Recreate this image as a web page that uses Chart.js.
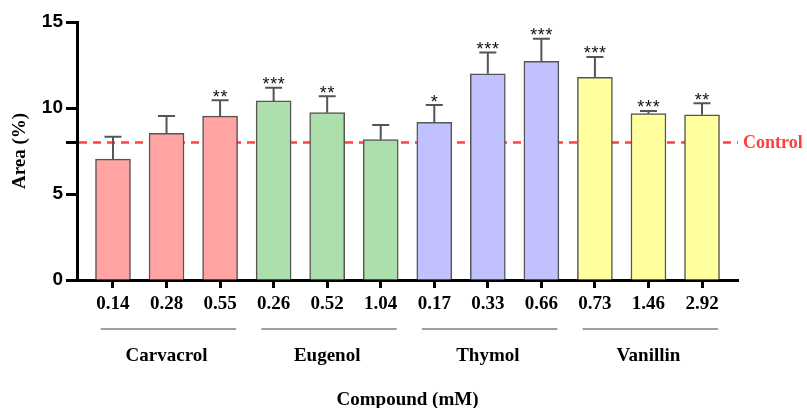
<!DOCTYPE html>
<html>
<head>
<meta charset="utf-8">
<script src="https://cdn.jsdelivr.net/npm/chart.js@4"></script>
<style>
  html, body { margin: 0; padding: 0; background: #fff; }
</style>
</head>
<body>
<canvas id="graficoArea" width="807" height="408"></canvas>
<script>
const compounds = ["Carvacrol", "Eugenol", "Thymol", "Vanillin"];
const compoundColors = ["#ffa3a3", "#addfad", "#c1c1ff", "#ffff9e"];
const doses = ["0.14", "0.28", "0.55", "0.26", "0.52", "1.04", "0.17", "0.33", "0.66", "0.73", "1.46", "2.92"];
const areas = [7.03, 8.53, 9.53, 10.41, 9.73, 8.16, 9.17, 11.99, 12.71, 11.78, 9.67, 9.61];
const errors = [1.3, 1.0, 0.92, 0.77, 0.95, 0.85, 1.0, 1.23, 1.32, 1.19, 0.16, 0.66];
const stars = ["", "", "**", "***", "**", "", "*", "***", "***", "***", "***", "**"];
const control = 8;
const yTicks = [0, 5, 10, 15];

const serif = "'Liberation Serif', 'Times New Roman', serif";
const sans = "'Liberation Sans', Arial, sans-serif";

// error bars, significance stars, control line and compound groups
const extras = {
  id: "extras",

  beforeDatasetsDraw(chart) {
    const { ctx, chartArea, scales } = chart;
    const y = scales.y.getPixelForValue(control);
    ctx.save();
    ctx.strokeStyle = "#ff4040";
    ctx.lineWidth = 2.5;
    ctx.setLineDash([8, 6]);
    ctx.beginPath();
    ctx.moveTo(chartArea.left + 2, y);
    ctx.lineTo(chartArea.right, y);
    ctx.stroke();
    ctx.restore();
  },

  afterDatasetsDraw(chart) {
    const { ctx, scales } = chart;
    const bars = chart.getDatasetMeta(0).data;
    ctx.save();
    bars.forEach((bar, i) => {
      const top = scales.y.getPixelForValue(areas[i] + errors[i]);
      ctx.strokeStyle = "#555";
      ctx.lineWidth = 2;
      ctx.beginPath();
      ctx.moveTo(bar.x, bar.y);
      ctx.lineTo(bar.x, top);
      ctx.moveTo(bar.x - 8.5, top);
      ctx.lineTo(bar.x + 8.5, top);
      ctx.stroke();

      if (stars[i]) {
        ctx.fillStyle = "#111";
        ctx.font = "18px " + sans;
        ctx.textAlign = "center";
        const m = ctx.measureText("*");
        const mid = (m.actualBoundingBoxAscent - m.actualBoundingBoxDescent) / 2;
        const n = stars[i].length;
        for (let k = 0; k < n; k++) {
          const sx = bar.x + (k - (n - 1) / 2) * 7.7;
          ctx.fillText("*", sx, top - 7 + mid);
        }
      }
    });
    ctx.restore();
  },

  afterDraw(chart) {
    const { ctx, chartArea, scales } = chart;
    ctx.save();
    ctx.fillStyle = "#ff4040";
    ctx.font = "bold 18px " + serif;
    ctx.textAlign = "left";
    ctx.textBaseline = "middle";
    ctx.fillText("Control", chartArea.right + 5, scales.y.getPixelForValue(control) + 1);

    compounds.forEach((name, g) => {
      const x0 = scales.x.getPixelForValue(g * 3 - 0.23);
      const x1 = scales.x.getPixelForValue(g * 3 + 2 + 0.3);
      ctx.strokeStyle = "#808080";
      ctx.lineWidth = 1.5;
      ctx.beginPath();
      ctx.moveTo(x0, 329);
      ctx.lineTo(x1, 329);
      ctx.stroke();

      ctx.fillStyle = "#000";
      ctx.font = "bold 19px " + serif;
      ctx.textAlign = "center";
      ctx.fillText(name, scales.x.getPixelForValue(g * 3 + 1), 356);
    });
    ctx.restore();
  },
};

const ctx = document.getElementById("graficoArea");

const grafico = new Chart(ctx, {
  type: "bar",

  data: {
    datasets: [
      {
        data: areas.map((v, i) => ({ x: i, y: v })),
        backgroundColor: areas.map((v, i) => compoundColors[Math.floor(i / 3)]),
        borderColor: "#555",
        borderWidth: 1.5,
        barThickness: 35,
      },
    ],
  },

  options: {
    responsive: false,
    animation: false,

    layout: {
      padding: { left: 9, top: 22, right: 69, bottom: 0 },
    },

    plugins: {
      legend: { display: false },
      tooltip: { enabled: false },
    },

    scales: {
      x: {
        type: "linear",
        offset: false,
        min: -0.672,
        max: 11.672,
        afterBuildTicks: (s) => {
          s.ticks = doses.map((d, i) => ({ value: i }));
        },
        afterFit: (s) => {
          s.height = 128;
        },
        ticks: {
          callback: (v) => doses[v],
          autoSkip: false,
          maxRotation: 0,
          color: "#000",
          padding: 5,
          font: { family: serif, weight: "bold", size: 19 },
        },
        grid: {
          offset: false,
          drawOnChartArea: false,
          tickLength: 8,
          tickWidth: 3,
          tickColor: "#000",
        },
        border: { color: "#000", width: 3 },
        title: {
          display: true,
          text: "Compound (mM)",
          color: "#000",
          padding: 0,
          font: { family: serif, weight: "bold", size: 19, lineHeight: 0.8 },
        },
      },

      y: {
        min: 0,
        max: 15,
        afterBuildTicks: (s) => {
          s.ticks = [...yTicks, control].sort((a, b) => a - b).map((v) => ({ value: v }));
        },
        afterFit: (s) => {
          s.width = 68;
        },
        ticks: {
          callback: (v) => (yTicks.includes(v) ? v : ""),
          color: "#000",
          padding: 3,
          font: { family: sans, weight: "bold", size: 19 },
        },
        grid: {
          drawOnChartArea: false,
          tickLength: 11,
          tickWidth: 3,
          tickColor: "#000",
        },
        border: { color: "#000", width: 3 },
        title: {
          display: true,
          text: "Area (%)",
          color: "#000",
          padding: 0,
          font: { family: serif, weight: "bold", size: 19 },
        },
      },
    },
  },

  plugins: [extras],
});
</script>
</body>
</html>
